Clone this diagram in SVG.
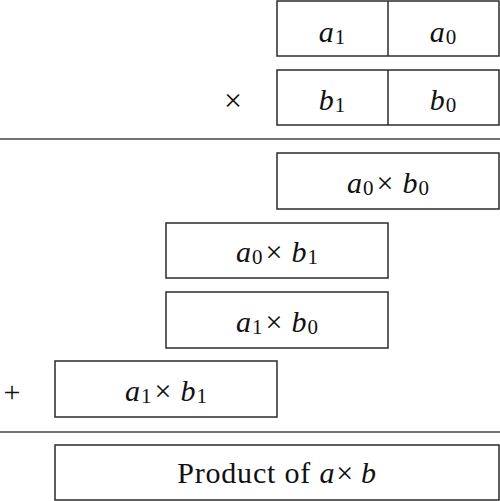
<svg xmlns="http://www.w3.org/2000/svg" width="500" height="501" viewBox="0 0 500 501">
<style>
.box{fill:#fff;stroke:#2b2b2b;stroke-width:1.5}
.rule{stroke:#444;stroke-width:1.5}
text{font-family:"Liberation Serif","DejaVu Serif",serif;font-size:30px;fill:#111;text-anchor:middle}
.v{font-style:italic}
.s{font-size:21px;font-style:normal}
.x{font-size:32px}
</style>
<rect width="500" height="501" fill="#fff"/>
<g id="connectors">
<line class="rule" x1="0" y1="139" x2="500" y2="139"/>
<line class="rule" x1="0" y1="432" x2="500" y2="432"/>
</g>
<g id="a">
<rect class="box" x="277" y="1" width="222" height="55"/>
<line class="box" x1="388" y1="1" x2="388" y2="56"/>
<text x="332" y="42"><tspan class="v">a</tspan><tspan class="s" dx="1" dy="2">1</tspan></text>
<text x="443" y="42"><tspan class="v">a</tspan><tspan class="s" dx="1" dy="2">0</tspan></text>
</g>
<g id="b">
<rect class="box" x="277" y="70" width="222" height="55"/>
<line class="box" x1="388" y1="70" x2="388" y2="125"/>
<text x="332" y="110"><tspan class="v">b</tspan><tspan class="s" dx="1" dy="2">1</tspan></text>
<text x="443" y="110"><tspan class="v">b</tspan><tspan class="s" dx="1" dy="2">0</tspan></text>
</g>
<g id="times"><text class="x" x="233" y="111">×</text></g>
<g id="p00">
<rect class="box" x="277" y="153" width="222" height="56"/>
<text x="388" y="193"><tspan class="v">a</tspan><tspan class="s" dx="1" dy="2">0</tspan><tspan dx="3" dy="-2">×</tspan><tspan class="v" dx="9">b</tspan><tspan class="s" dx="1" dy="2">0</tspan></text>
</g>
<g id="p01">
<rect class="box" x="166" y="223" width="222" height="55"/>
<text x="277" y="262"><tspan class="v">a</tspan><tspan class="s" dx="1" dy="2">0</tspan><tspan dx="3" dy="-2">×</tspan><tspan class="v" dx="9">b</tspan><tspan class="s" dx="1" dy="2">1</tspan></text>
</g>
<g id="p10">
<rect class="box" x="166" y="292" width="222" height="56"/>
<text x="277" y="332"><tspan class="v">a</tspan><tspan class="s" dx="1" dy="2">1</tspan><tspan dx="3" dy="-2">×</tspan><tspan class="v" dx="9">b</tspan><tspan class="s" dx="1" dy="2">0</tspan></text>
</g>
<g id="p11">
<rect class="box" x="55" y="361" width="222" height="56"/>
<text x="166" y="401"><tspan class="v">a</tspan><tspan class="s" dx="1" dy="2">1</tspan><tspan dx="3" dy="-2">×</tspan><tspan class="v" dx="9">b</tspan><tspan class="s" dx="1" dy="2">1</tspan></text>
</g>
<g id="plus"><text x="12" y="402">+</text></g>
<g id="product">
<rect class="box" x="55" y="445" width="444" height="55"/>
<text x="277" y="483" letter-spacing="0.8">Product of <tspan class="v">a</tspan><tspan dx="1">×</tspan><tspan class="v" dx="7">b</tspan></text>
</g>
</svg>
